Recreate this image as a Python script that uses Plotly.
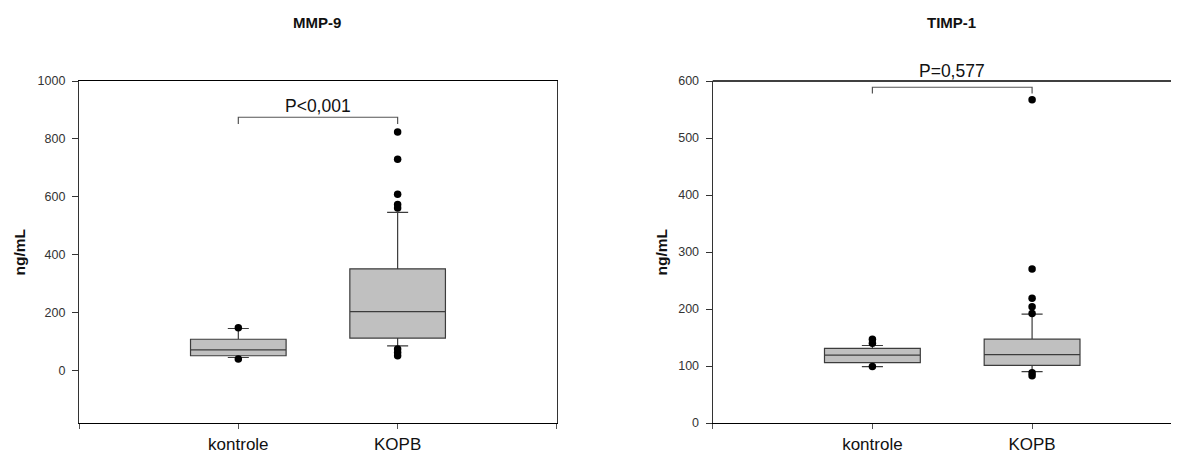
import plotly.graph_objects as go

# ---------------- data ----------------
categories = ["kontrole", "KOPB"]
cat_pos = [1, 2]

# MMP-9 (ng/mL)
mmp_q1 = [52, 113]
mmp_median = [72, 204]
mmp_q3 = [109, 352]
mmp_lower = [46, 86]
mmp_upper = [146, 547]
mmp_out_kontrole = [149, 41]
mmp_out_kopb = [824, 730, 609, 574, 562, 75, 63, 52]
mmp_p_label = "P<0,001"

# TIMP-1 (ng/mL)
timp_q1 = [106, 101]
timp_median = [119, 120]
timp_q3 = [131, 147]
timp_lower = [99, 90]
timp_upper = [136, 191]
timp_out_kontrole = [147, 140, 99]
timp_out_kopb = [567, 270, 219, 204, 192, 88, 83]
timp_p_label = "P=0,577"

titles = ["MMP-9", "TIMP-1"]
y_title = "ng/mL"

# ---------------- style ----------------
FONT = "Liberation Sans, Arial, sans-serif"
BOX_FILL = "#c0c0c0"
BOX_LINE = "#3c3c3c"
PAGE_OFF = 8          # default body margin of the html page
PLOT_W, PLOT_H = 1100, 342
B = 32

fig = go.Figure()

def add_panel(xa, ya, q1, med, q3, lo, up, out_k, out_b):
    fig.add_trace(go.Box(
        x=cat_pos, q1=q1, median=med, q3=q3, lowerfence=lo, upperfence=up,
        xaxis=xa, yaxis=ya, width=0.6, whiskerwidth=0.22,
        fillcolor=BOX_FILL, line=dict(color=BOX_LINE, width=1.2),
        boxpoints=False, showlegend=False, hoverinfo="skip"))
    for pos, vals in zip(cat_pos, [out_k, out_b]):
        fig.add_trace(go.Scatter(
            x=[pos] * len(vals), y=vals, mode="markers", xaxis=xa, yaxis=ya,
            marker=dict(color="#000000", size=7.5, symbol="circle"),
            cliponaxis=False, showlegend=False, hoverinfo="skip"))

add_panel("x", "y", mmp_q1, mmp_median, mmp_q3, mmp_lower, mmp_upper,
          mmp_out_kontrole, mmp_out_kopb)
add_panel("x2", "y2", timp_q1, timp_median, timp_q3, timp_lower, timp_upper,
          timp_out_kontrole, timp_out_kopb)

xcommon = dict(
    tickmode="array", tickvals=[0, 1, 2, 3], ticktext=["", categories[0], categories[1], ""],
    showline=True, linecolor="#000000", linewidth=1.3, ticks="outside", ticklen=5,
    tickcolor="#555555", showgrid=False, zeroline=False, ticklabelstandoff=0,
    tickfont=dict(family=FONT, size=17, color="#111111"),
)
ycommon = dict(
    showline=True, linecolor="#333333", linewidth=1.3, ticks="outside", ticklen=6,
    tickcolor="#333333", showgrid=False, zeroline=False, ticklabelstandoff=4,
    tickfont=dict(family=FONT, size=12.5, color="#333333"),
)

fig.update_layout(
    width=1179 - PAGE_OFF, height=455 - PAGE_OFF,
    margin=dict(l=79 - PAGE_OFF, r=0, t=81 - PAGE_OFF, b=B, autoexpand=False),
    plot_bgcolor="white", paper_bgcolor="white",
    xaxis=dict(domain=[0, 0.4345], range=[0, 3], mirror=True, **xcommon),
    yaxis=dict(range=[-180, 1000], tickvals=[0, 200, 400, 600, 800, 1000], mirror=True,
               **ycommon),
    xaxis2=dict(domain=[0.5761, 1.0], range=[0, 2.92], anchor="y2", **xcommon),
    yaxis2=dict(range=[0, 600], tickvals=[0, 100, 200, 300, 400, 500, 600], anchor="x2",
                **ycommon),
)

# top border of the right panel (its right border lies outside the picture)
fig.add_shape(type="line", xref="x2 domain", yref="y2 domain", x0=0, x1=1, y0=1, y1=1,
              line=dict(color="#000000", width=1.3))

# significance brackets
def bracket(xa, ya, ytop, ybot, label, ytext, yrange):
    fig.add_shape(type="path", xref=xa, yref=ya,
                  path=f"M 1,{ybot} L 1,{ytop} L 2,{ytop} L 2,{ybot}",
                  line=dict(color="#555555", width=1.2))
    fig.add_annotation(x=1.5, y=(ytext - yrange[0]) / (yrange[1] - yrange[0]),
                       xref=xa, yref=ya + " domain", text=label, showarrow=False,
                       font=dict(family=FONT, size=17.5, color="#111111"),
                       xanchor="center", yanchor="middle")

bracket("x", "y", 875, 852, mmp_p_label, 914, (-180, 1000))
bracket("x2", "y2", 589, 578, timp_p_label, 618, (0, 600))

# panel titles (absolute page pixels converted to plot-area paper coords)
def px(xabs):
    return (xabs - 79) / PLOT_W

def py(yabs):
    return (455 - B - yabs) / PLOT_H

for xc, t in [(317, titles[0]), (951.5, titles[1])]:
    fig.add_annotation(x=px(xc), y=py(22.7), xref="paper", yref="paper",
                       text=f"<b>{t}</b>", showarrow=False,
                       xanchor="center", yanchor="middle",
                       font=dict(family=FONT, size=15, color="#111111"))

# y-axis titles
for xc in [18.5, 660.5]:
    fig.add_annotation(x=px(xc), y=py(252), xref="paper", yref="paper",
                       text=f"<b>{y_title}</b>", showarrow=False,
                       textangle=-90, xanchor="center", yanchor="middle",
                       font=dict(family=FONT, size=15.5, color="#111111"))

fig.write_html("out.html")
